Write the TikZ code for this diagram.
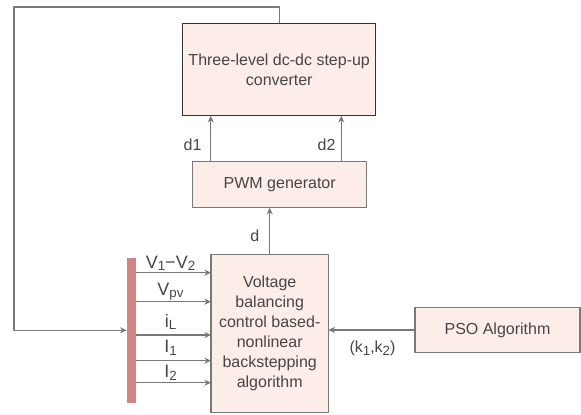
\documentclass[tikz,border=0pt]{standalone}
\usepackage{fontspec}
\setmainfont{Liberation Sans}
\usetikzlibrary{arrows.meta}
\definecolor{boxfill}{RGB}{252,237,232}
\definecolor{barfill}{RGB}{208,133,133}
\definecolor{linegray}{RGB}{120,120,120}
\definecolor{txtgray}{RGB}{70,70,70}
\newcommand\lsub[1]{\raisebox{-0.3ex}{\fontsize{10}{10}\selectfont #1}}
\begin{document}
\begin{tikzpicture}[x=0.75pt,y=-0.75pt,line join=round,>={Stealth[length=5pt,width=4.5pt]},thick]
			\tikzset{every node/.style={text=txtgray,font=\fontsize{12}{15}\selectfont},
				blok/.style={draw=linegray,fill=boxfill,line width=0.9pt,inner sep=0pt,outer sep=0pt,align=center},
				arr/.style={->,draw=linegray,line width=0.9pt},
				lbl/.style={anchor=base,font=\fontsize{13.5}{16}\selectfont}}
			\useasboundingbox (0,0) rectangle (581,414);
			% blocks
			\node[blok,draw=black!80,minimum width=0.75*193pt,minimum height=0.75*92.4pt] (conv) at (279.2,69.5) {Three-level dc-dc step-up\\converter};
			\node[blok,minimum width=0.75*174pt,minimum height=0.75*46pt] (pwm) at (279.7,184.7) {PWM generator};
			\node[blok,minimum width=0.75*117.3pt,minimum height=0.75*158.4pt] (ctrl) at (269.7,333.5) {Voltage\\balancing\\control based-\\nonlinear\\backstepping\\algorithm};
			\node[blok,minimum width=0.75*165pt,minimum height=0.75*45.4pt] (pso) at (497.5,330) {PSO Algorithm};
			\node[fill=barfill,inner sep=0pt,outer sep=0pt,minimum width=0.75*9.2pt,minimum height=0.75*144.7pt] (bar) at (131.3,330.3) {};
			% pwm -> converter
			\draw[arr] (pwm.north -| 210.7,0) -- (conv.south -| 210.7,0);
			\draw[arr] (pwm.north -| 341.3,0) -- (conv.south -| 341.3,0);
			\node[anchor=base] (d1) at (192.5,150) {d1};
			\node[anchor=base] (d2) at (326.5,150) {d2};
			% controller -> pwm
			\draw[arr] (ctrl.north) -- (ctrl.north |- pwm.south);
			\node[anchor=base] (dl) at (254.7,241.7) {d};
			% pso -> controller
			\draw[arr] (pso.west) -- (pso.west -| ctrl.east);
			\node[anchor=base] (kl) at (372.5,352.7) {(k\lsub{1},k\lsub{2})};
			% feedback
			\coordinate (fbtop) at (14,7);
			\draw[arr] (conv.north) |- (fbtop) |- (bar.west);
			% measured signals
			\foreach \y/\ly/\lab in {272.7/268/{V\lsub{1}−V\lsub{2}},301.7/295/{V\lsub{pv}},335/327/{i\lsub{L}},360.7/352.7/{I\lsub{1}},382.7/377.7/{I\lsub{2}}}
			{
				\draw[arr] (bar.east |- 0,\y) -- (ctrl.west |- 0,\y);
				\node[lbl] at (170.5,\ly) {\lab};
			}
		\end{tikzpicture}
\end{document}
